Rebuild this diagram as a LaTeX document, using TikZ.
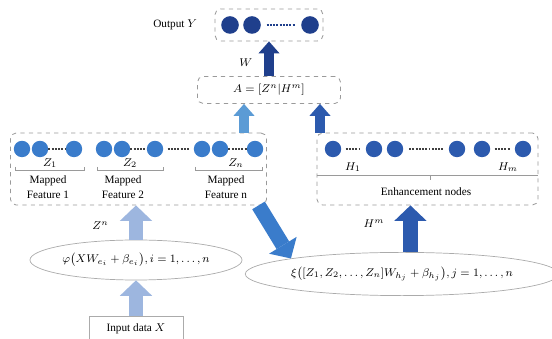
\documentclass[tikz,border=0pt]{standalone}
\usepackage{amsmath}
\usepackage{fontspec}
\setmainfont{Liberation Serif}
\usepackage{xcolor}
\usetikzlibrary{arrows.meta, positioning, shapes.geometric}

\definecolor{navy}{HTML}{1F3F8C}
\definecolor{deepblue}{HTML}{2C5AAE}
\definecolor{midblue}{HTML}{3A7CCB}
\definecolor{skyblue}{HTML}{5B9BD5}
\definecolor{paleblue}{HTML}{9DB6DF}
\definecolor{boxgray}{HTML}{9A9A9A}
\definecolor{ellgray}{HTML}{ABABAB}

\begin{document}
\begin{tikzpicture}[x=0.025cm, y=-0.025cm, font=\fontsize{8}{11}\selectfont,
  layerbox/.style={draw=boxgray, dashed, rounded corners=4pt, line width=0.6pt, inner sep=0pt},
  neuron/.style={circle, fill=#1, minimum size=0.41cm, inner sep=0pt},
  mapfun/.style={ellipse, draw=ellgray, line width=0.5pt, inner sep=0pt},
  dotlink/.style={draw=#1, line width=0.8pt, dash pattern=on 1.4pt off 0.9pt},
  bracket/.style={draw=boxgray, line width=0.5pt},
  thinarrow/.style={draw=#1, line width=7pt, -{Triangle[width=15pt, length=8.5pt, line width=0pt]}},
  bigarrow/.style={draw=#1, line width=10.5pt, -{Triangle[width=23pt, length=11pt, line width=0pt]}}]
  \useasboundingbox (0,0) rectangle (552,339);

  % output layer
  \node[layerbox, minimum width=2.7cm, minimum height=0.8cm] (outlayer) at (269,25) {};
  \node[neuron=navy, minimum size=0.44cm] (y1) at (230,25) {};
  \node[neuron=navy, minimum size=0.44cm] (y2) at (252,25) {};
  \node[neuron=navy, minimum size=0.44cm] (y3) at (310,25) {};
  \draw[dotlink=navy, shorten <=4pt, shorten >=4pt] (y2) -- (y3);
  \node[left=9pt of outlayer] (outlbl) {Output $Y$};

  % concatenated layer
  \node[layerbox, minimum width=3.575cm, minimum height=0.675cm] (concat) at (269,90) {$A=[Z^n|H^m]$};
  \draw[thinarrow=navy] (concat.north) -- node[pos=0.4, left=5pt] (wlbl) {$W$} (outlayer.south);

  % mapped features
  \node[layerbox, minimum width=6.4cm, minimum height=1.8cm] (mapped) at (138.5,169) {};
  \node[neuron=midblue] (z11) at (22,149) {};
  \node[neuron=midblue] (z12) at (40,149) {};
  \node[neuron=midblue] (z13) at (74,149) {};
  \node[neuron=midblue] (z21) at (104,149) {};
  \node[neuron=midblue] (z22) at (122,149) {};
  \node[neuron=midblue] (z23) at (155,149) {};
  \node[neuron=midblue] (zn1) at (202,149) {};
  \node[neuron=midblue] (zn2) at (220,149) {};
  \node[neuron=midblue] (zn3) at (255,149) {};
  \draw[dotlink=black!75] (z12) -- (z13);
  \draw[dotlink=black!75] (z22) -- (z23);
  \draw[dotlink=black!75] (zn2) -- (zn3);
  \draw[dotlink=black!75, shorten <=3pt, shorten >=3pt] (z23) -- (zn1);
  \draw[bracket] (15,167) -- (15,170) -- (84,170) -- (84,167);
  \draw[bracket] (97,167) -- (97,170) -- (163,170) -- (163,167);
  \draw[bracket] (195,167) -- (195,170) -- (262,170) -- (262,167);
  \node (z1lbl) at (50,163) {$Z_1$};
  \node (z2lbl) at (130,163) {$Z_2$};
  \node (znlbl) at (236,163) {$Z_n$};
  \node[align=center] (feat1) at (48,187) {Mapped\\Feature 1};
  \node[align=center] (feat2) at (123,187) {Mapped\\Feature 2};
  \node[align=center] (featn) at (226,187) {Mapped\\Feature n};

  % enhancement nodes
  \node[layerbox, minimum width=5.525cm, minimum height=1.8cm] (enhance) at (427.5,169) {};
  \node[neuron=deepblue] (h1) at (333,149) {};
  \node[neuron=deepblue] (h2) at (374,149) {};
  \node[neuron=deepblue] (h3) at (395,149) {};
  \node[neuron=deepblue] (h4) at (457,149) {};
  \node[neuron=deepblue] (h5) at (482,149) {};
  \node[neuron=deepblue] (h6) at (523,149) {};
  \draw[dotlink=black!75, shorten <=3pt, shorten >=4pt] (h1) -- (h2);
  \draw[dotlink=black!75, shorten <=4pt, shorten >=4pt] (h3) -- (h4);
  \draw[dotlink=black!75, shorten <=3pt, shorten >=3pt] (h5) -- (h6);
  \node (h1lbl) at (353,167) {$H_1$};
  \node (hmlbl) at (508,167) {$H_m$};
  \draw[bracket] (enhance.west |- 0,175) -- (enhance.east |- 0,175);
  \draw[bracket] (430,175) -- (430,180);
  \node (enhlbl) at (426,192) {Enhancement nodes};

  % arrows into A
  \coordinate (mapout) at (244,133);
  \coordinate (enhout) at (320,133);
  \draw[thinarrow=skyblue] (mapout) -- (mapout |- concat.south);
  \draw[thinarrow=deepblue] (enhout) -- (enhout |- concat.south);

  % mapping functions
  \node[mapfun, minimum width=5.3cm, minimum height=1cm] (phimap) at (136,260) {$\varphi\big(XW_{e_i}+\beta_{e_i}\big), i=1,\ldots,n$};
  \node[mapfun, minimum width=7.2cm, minimum height=1.08cm] (ximap) at (402,274) {$\xi\big([Z_1,Z_2,\ldots,Z_n]W_{h_j}+\beta_{h_j}\big), j=1,\ldots,n$};
  \node[draw=ellgray, line width=0.5pt, minimum width=2.35cm, minimum height=0.65cm] (inp) at (136,329) {Input data $X$};

  \draw[bigarrow=paleblue] (inp.north) -- (phimap.south);
  \draw[bigarrow=paleblue] (phimap.north) -- node[pos=0.4, left=11pt] (znlabel) {$Z^n$} (phimap.north |- mapped.south);
  \draw[bigarrow=midblue] ([xshift=-6pt]mapped.south east) -- (ximap.north west);
  \draw[bigarrow=deepblue] ([xshift=6pt]ximap.north) -- node[pos=0.6, left=10pt] (hmlabel) {$H^m$} ([xshift=6pt]ximap.north |- enhance.south);
\end{tikzpicture}
\end{document}
